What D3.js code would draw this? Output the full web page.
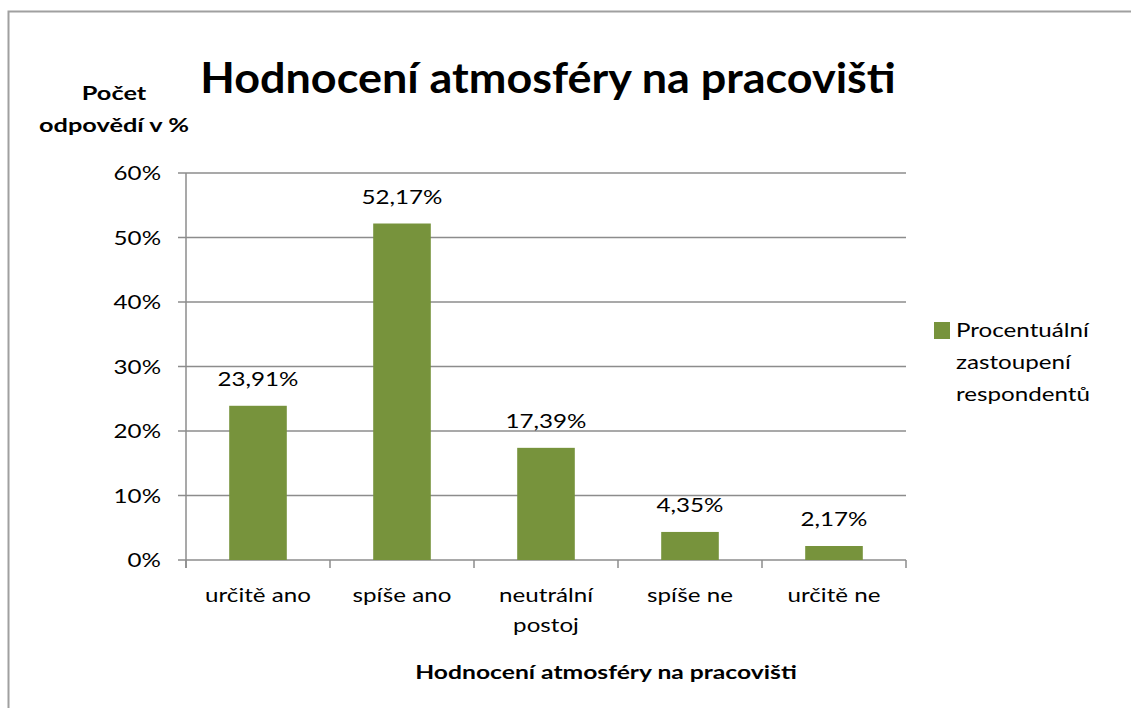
<!DOCTYPE html>
<html>
<head>
<meta charset="utf-8">
<script src="https://cdn.jsdelivr.net/npm/d3@7"></script>
<style>
  body { margin: 0; background: #fff; }
  svg { display: block; overflow: visible; }
  svg text { font-family: Lato, "Open Sans", sans-serif; fill: #000; }
</style>
</head>
<body>
<svg id="chart"></svg>
<script>
const categories = [["určitě ano"], ["spíše ano"], ["neutrální", "postoj"], ["spíše ne"], ["určitě ne"]];
const values = [23.91, 52.17, 17.39, 4.35, 2.17];
const valueLabels = ["23,91%", "52,17%", "17,39%", "4,35%", "2,17%"];
const yTicks = [0, 10, 20, 30, 40, 50, 60];
const title = "Hodnocení atmosféry na pracovišti";
const xTitle = "Hodnocení atmosféry na pracovišti";
const yTitle = ["Počet", "odpovědí v %"];
const legendLines = ["Procentuální", "zastoupení", "respondentů"];

const width = 1131, height = 708;
const margin = { top: 173, right: 225, bottom: 148, left: 186 };
const innerWidth = width - margin.left - margin.right;
const innerHeight = height - margin.top - margin.bottom;
const barColor = "#77933c";
const gridColor = "#8c8c8c";
// the source text is rendered wider than Lato, so stretch it horizontally
const sxRegular = 1.24, sxBold = 1.37, sxTitle = 1.07;

const svg = d3.select("#chart").attr("width", width).attr("height", height);

// outer frame (only top + left edges visible)
svg.append("path")
  .attr("d", `M8.5,${height} V11.5 H${width}`)
  .attr("fill", "none").attr("stroke", "#a0a0a0").attr("stroke-width", 2);

const chart = svg.append("g").attr("transform", `translate(${margin.left},${margin.top})`);

const x = d3.scaleBand().domain(d3.range(values.length)).range([0, innerWidth]);
const y = d3.scaleLinear().domain([0, 60]).range([innerHeight, 0]);

const place = (px, py, sx) => `translate(${px},${py}) scale(${sx},1)`;

// gridlines
chart.selectAll(".grid")
  .data(yTicks)
  .join("line")
  .attr("class", "grid")
  .attr("x1", -8).attr("x2", innerWidth)
  .attr("y1", d => y(d)).attr("y2", d => y(d))
  .attr("stroke", gridColor).attr("stroke-width", 1.5);

// y tick labels
chart.selectAll(".ytick")
  .data(yTicks)
  .join("text")
  .attr("class", "ytick")
  .attr("transform", d => place(-25, y(d), sxRegular))
  .attr("dy", "0.36em")
  .attr("text-anchor", "end")
  .style("font-size", "19.5px")
  .text(d => d + "%");

// axis lines
chart.append("line")
  .attr("x1", 0).attr("x2", 0).attr("y1", 0).attr("y2", innerHeight + 8)
  .attr("stroke", gridColor).attr("stroke-width", 1.5);

const bounds = d3.range(values.length + 1).map(i => i * x.bandwidth());
chart.selectAll(".xtick")
  .data(bounds)
  .join("line")
  .attr("class", "xtick")
  .attr("x1", d => d).attr("x2", d => d)
  .attr("y1", innerHeight).attr("y2", innerHeight + 8)
  .attr("stroke", gridColor).attr("stroke-width", 1.5);

// bars
const barW = x.bandwidth() * 0.4;
chart.selectAll(".bar")
  .data(values)
  .join("rect")
  .attr("class", "bar")
  .attr("x", (d, i) => x(i) + (x.bandwidth() - barW) / 2)
  .attr("width", barW)
  .attr("y", d => y(d))
  .attr("height", d => innerHeight - y(d))
  .attr("fill", barColor);

// value labels
chart.selectAll(".vlabel")
  .data(values)
  .join("text")
  .attr("class", "vlabel")
  .attr("transform", (d, i) => place(x(i) + x.bandwidth() / 2, y(d) - 20, sxRegular))
  .attr("text-anchor", "middle")
  .style("font-size", "19.5px")
  .text((d, i) => valueLabels[i]);

// category labels
const cat = chart.selectAll(".cat")
  .data(categories)
  .join("text")
  .attr("class", "cat")
  .attr("transform", (d, i) => place(x(i) + x.bandwidth() / 2, innerHeight + 42, sxRegular))
  .attr("text-anchor", "middle")
  .style("font-size", "19.5px");
cat.selectAll("tspan")
  .data(d => d)
  .join("tspan")
  .attr("x", 0)
  .attr("y", (d, j) => j * 30)
  .text(d => d);

// x title
chart.append("text")
  .attr("transform", place(420, innerHeight + 119, sxBold))
  .attr("text-anchor", "middle")
  .style("font-size", "18px")
  .style("font-weight", "bold")
  .text(xTitle);

// y title
svg.append("text")
  .attr("transform", place(114, 100, sxBold))
  .attr("text-anchor", "middle")
  .style("font-size", "18.5px")
  .style("font-weight", "bold")
  .selectAll("tspan")
  .data(yTitle)
  .join("tspan")
  .attr("x", 0)
  .attr("y", (d, i) => i * 32)
  .text(d => d);

// main title
svg.append("text")
  .attr("transform", place(548, 93, sxTitle))
  .attr("text-anchor", "middle")
  .style("font-size", "42px")
  .style("font-weight", "bold")
  .text(title);

// legend
const legend = svg.append("g").attr("transform", `translate(${margin.left + innerWidth + 28},322)`);
legend.append("rect")
  .attr("width", 16).attr("height", 17)
  .attr("fill", barColor);
legend.append("text")
  .attr("transform", place(22, 15, sxRegular))
  .style("font-size", "19.5px")
  .selectAll("tspan")
  .data(legendLines)
  .join("tspan")
  .attr("x", 0)
  .attr("y", (d, i) => i * 32)
  .text(d => d);
</script>
</body>
</html>
